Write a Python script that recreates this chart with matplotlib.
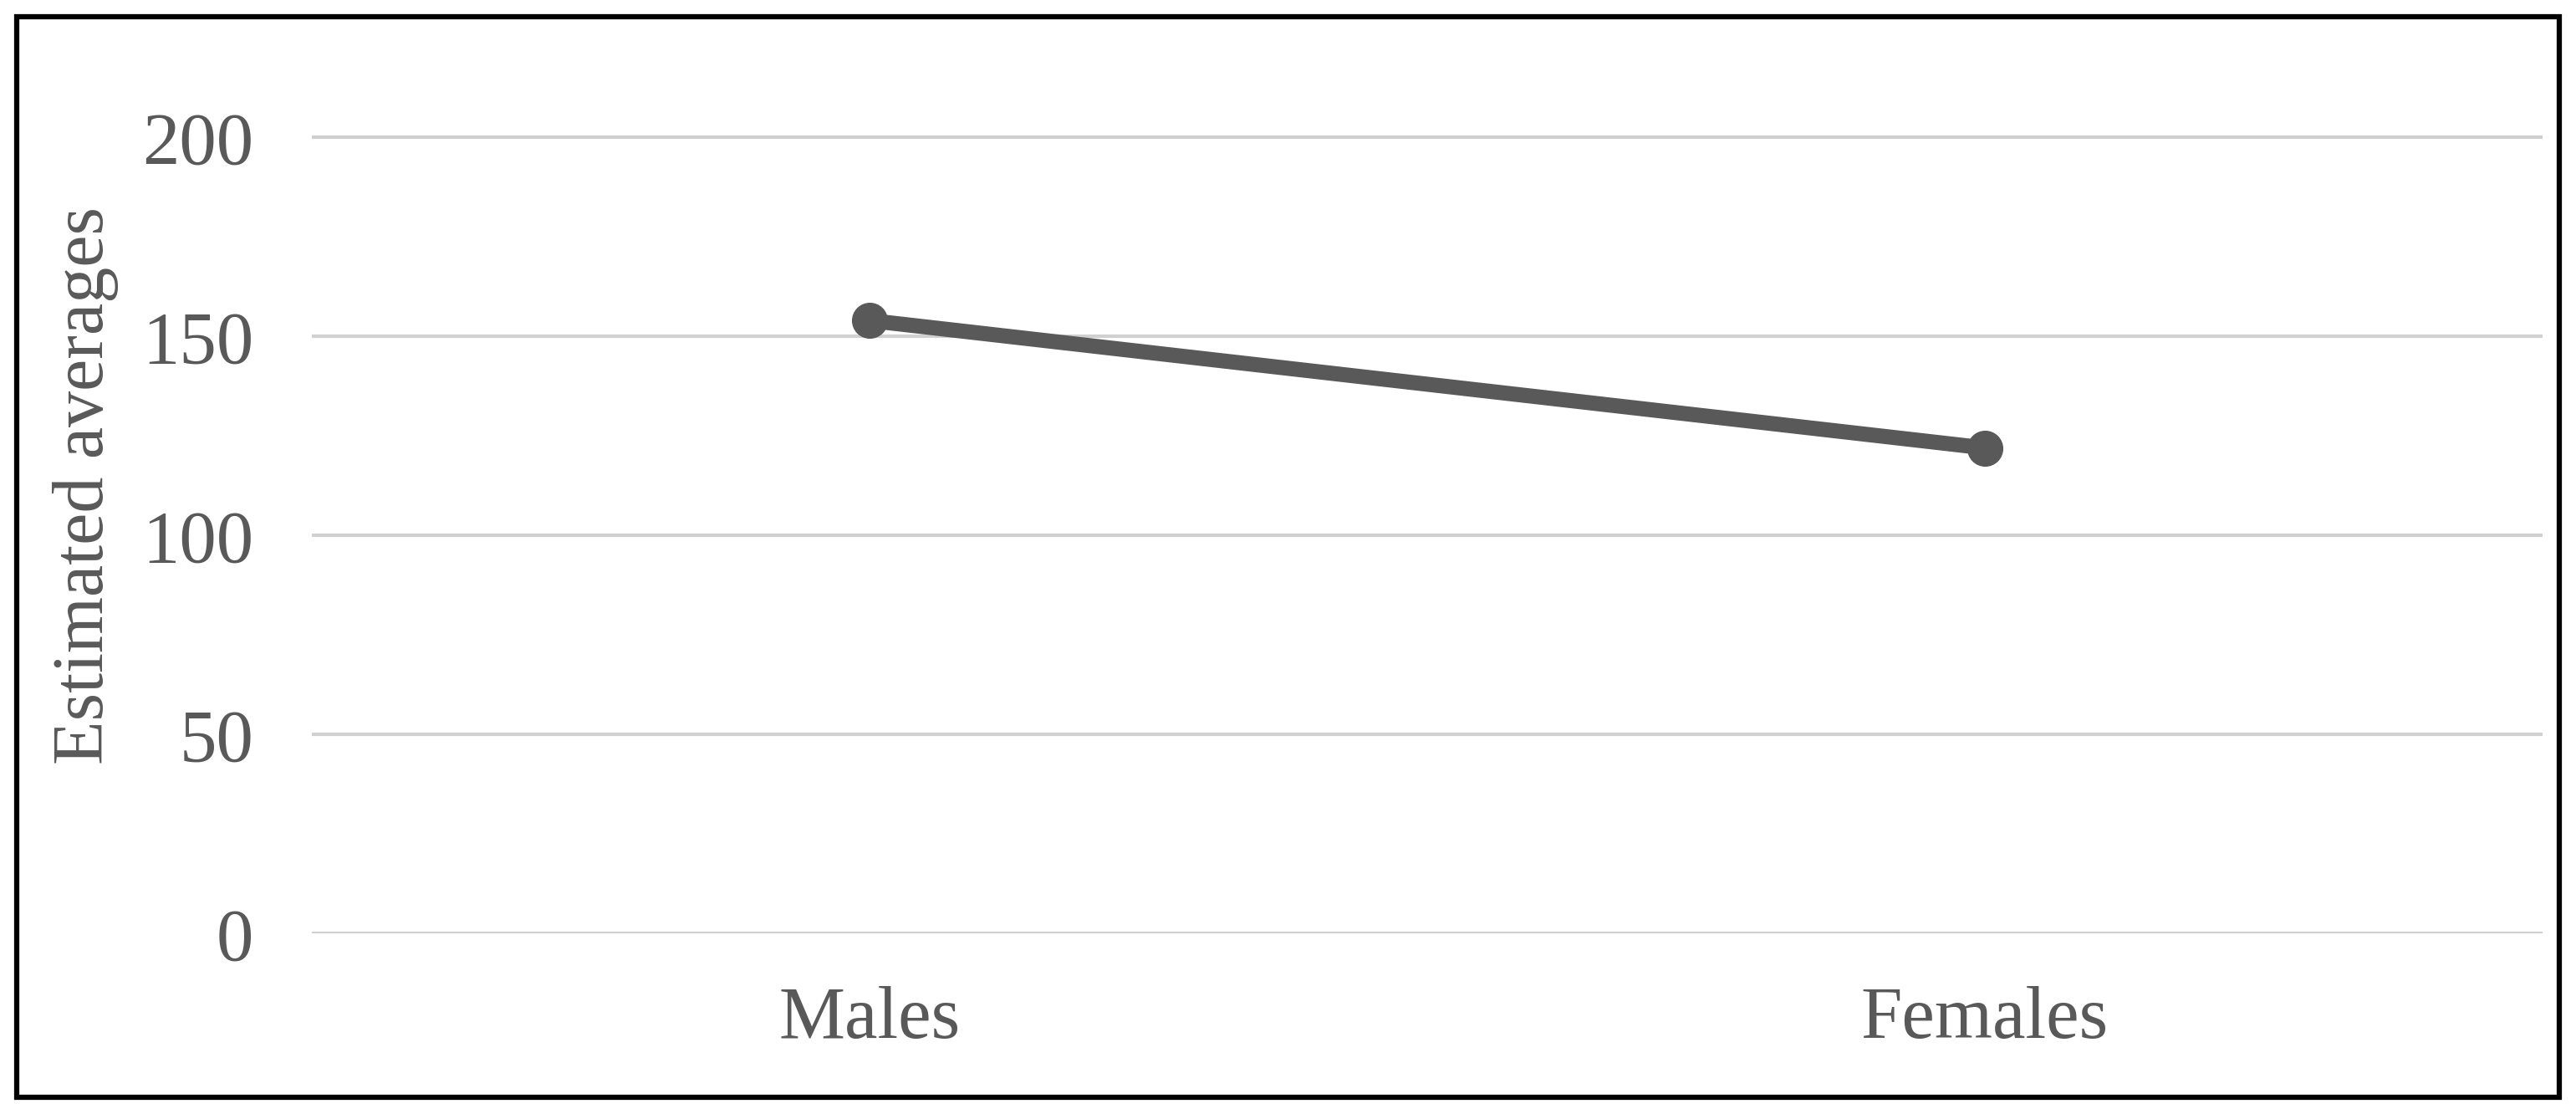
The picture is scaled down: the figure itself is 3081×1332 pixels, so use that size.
import matplotlib
matplotlib.use("Agg")
import matplotlib.pyplot as plt
from matplotlib.patches import Rectangle

categories = ["Males", "Females"]
values = [154, 122]
yticks = [0, 50, 100, 150, 200]

plt.rcParams['font.family'] = ['Liberation Serif', 'DejaVu Serif']
fig = plt.figure(figsize=(30.81, 13.32), dpi=100)
ax = fig.add_axes([0.121, 0.162, 0.866, 0.804])
x = list(range(len(categories)))
ax.plot(x, values, color='#595959', lw=13, marker='o', ms=30, zorder=3)
ax.set_xlim(-0.5, 1.5)
ax.set_ylim(0, 225)
ax.set_yticks(yticks)
ax.set_xticks(x)
ax.set_xticklabels(categories)
ax.tick_params(axis='both', length=0, labelsize=64, colors='#595959')
ax.tick_params(axis='x', pad=45)
ax.tick_params(axis='y', pad=50)
ax.grid(axis='y', color='#d0d0d0', lw=3)
ax.set_axisbelow(True)
for s in ax.spines.values():
    s.set_visible(False)
ax.set_ylabel("Estimated averages", fontsize=62, color='#595959', labelpad=20)
fig.patches.append(Rectangle((0.0065, 0.015), 0.987, 0.97, transform=fig.transFigure,
                             fill=False, ec='black', lw=4.5))
fig.savefig("out.png", dpi=100)
